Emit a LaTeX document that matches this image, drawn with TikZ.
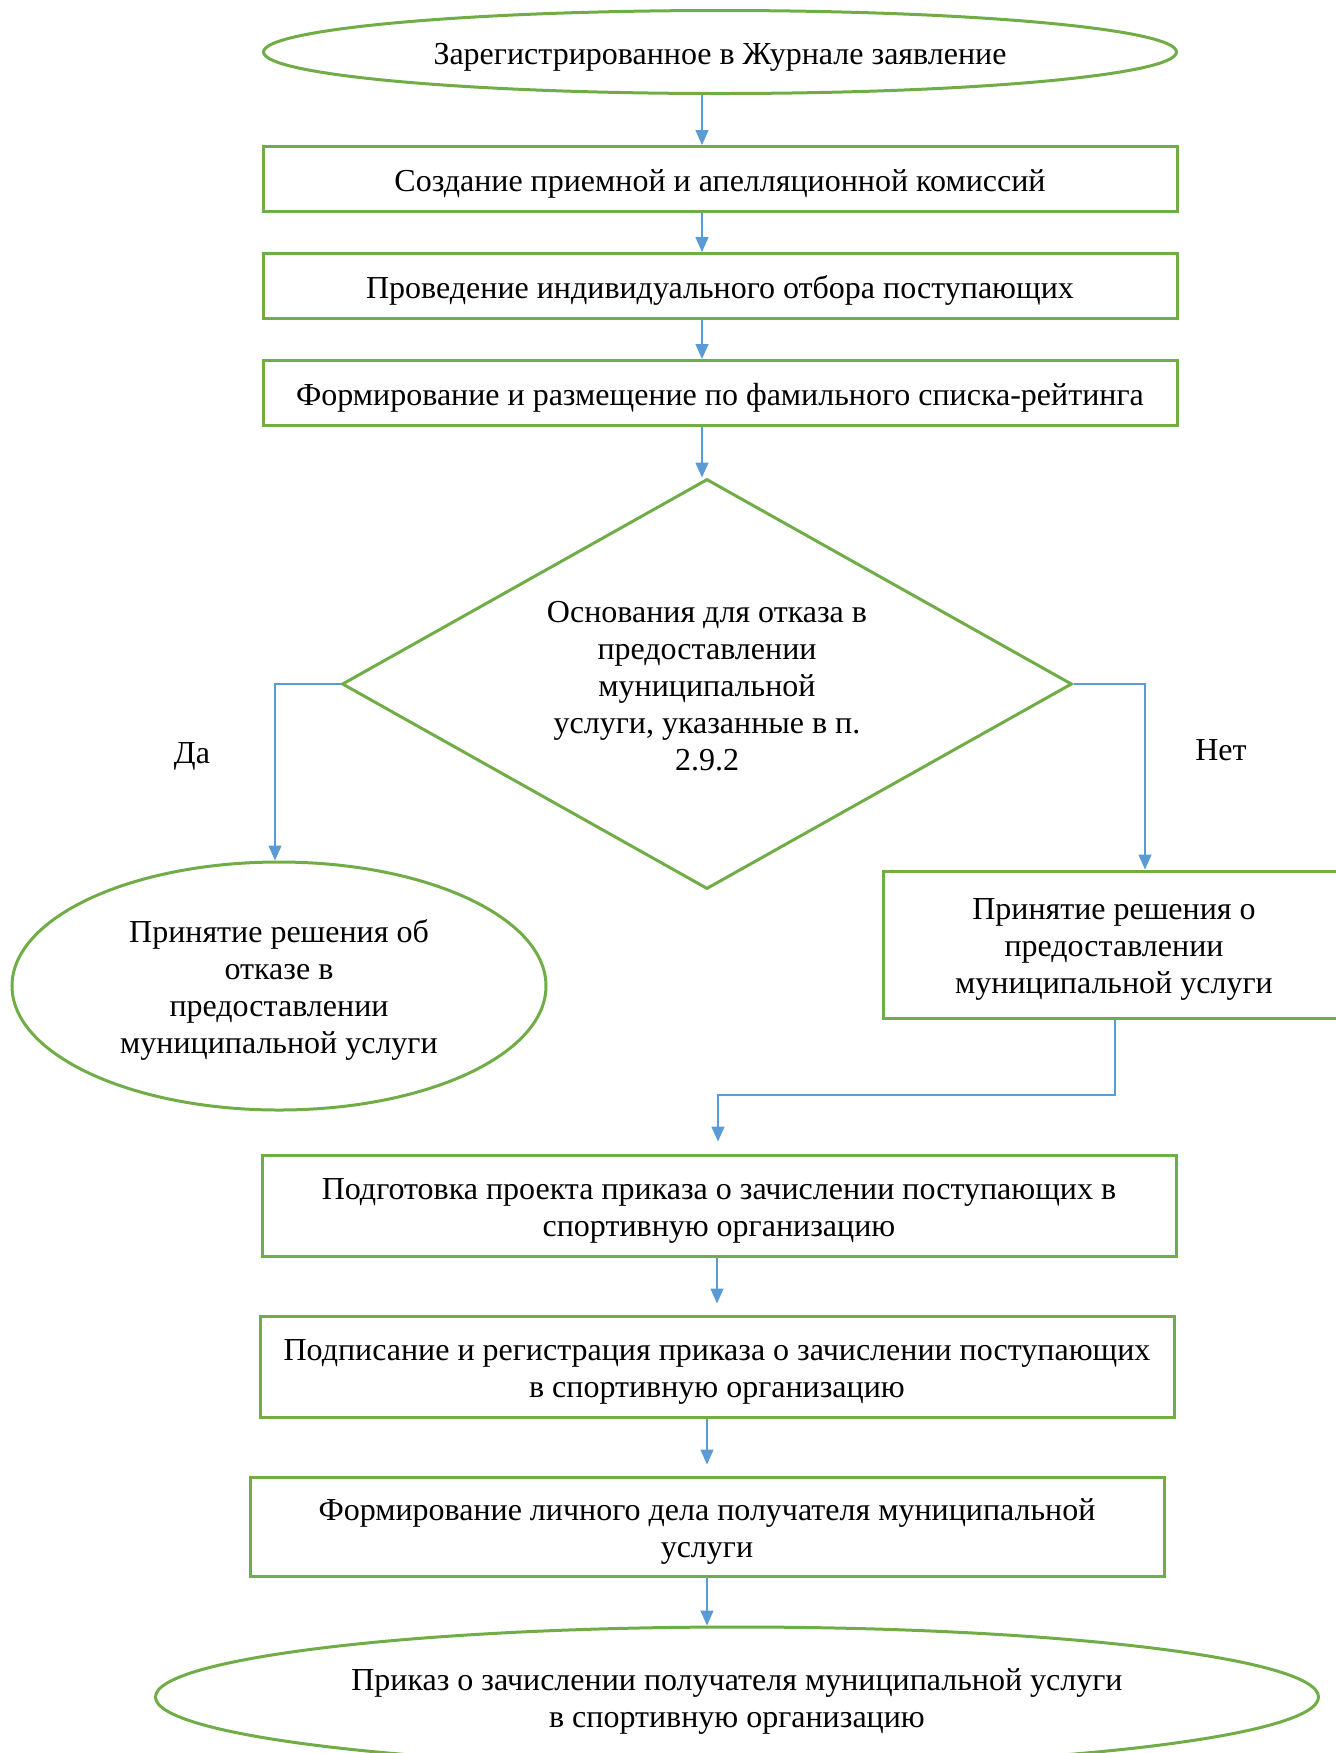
\documentclass[tikz,border=0pt]{standalone}
\usepackage{fontspec}
\setmainfont{Liberation Serif}
\usetikzlibrary{shapes.geometric,arrows.meta}
\definecolor{gr}{RGB}{112,173,71}
\definecolor{bl}{RGB}{91,155,213}
\newcommand{\tx}[1]{\raisebox{-2.3pt}[\height][\depth]{\begin{tabular}{@{}c@{}}#1\end{tabular}}}
\begin{document}
\begin{tikzpicture}[x=0.5pt,y=-0.5pt,
  every node/.style={font=\fontsize{16}{18.5}\selectfont, inner sep=0pt},
  gbox/.style={draw=gr, line width=1.5pt, rectangle, minimum width=457pt},
  gell/.style={draw=gr, line width=1.5pt, ellipse},
  gdia/.style={draw=gr, line width=1.5pt, diamond, aspect=1.78, minimum width=365pt, minimum height=205pt},
  arr/.style={draw=bl, line width=0.75pt, -{Triangle[width=6.5pt,length=7.5pt]}},
  conn/.style={draw=bl, line width=0.75pt}]
\useasboundingbox (0,0) rectangle (1336,1753);
\node[gell, minimum width=456.5pt, minimum height=41.5pt] (e1) at (720,52) {\tx{Зарегистрированное в Журнале заявление}};
\node[gbox, minimum height=32.5pt] (b1) at (720,179) {\tx{Создание приемной и апелляционной комиссий}};
\node[gbox, minimum height=32.5pt] (b2) at (720,286) {\tx{Проведение индивидуального отбора поступающих}};
\node[gbox, minimum height=32.5pt] (b3) at (720,393) {\tx{Формирование и размещение по фамильного списка-рейтинга}};
\node[gdia] (d) at (707,684) {\tx{Основания для отказа в\\предоставлении\\муниципальной\\услуги, указанные в п.\\2.9.2}};
\node[gell, minimum width=267pt, minimum height=124pt] (le) at (279,986) {\tx{Принятие решения об\\отказе в\\предоставлении\\муниципальной услуги}};
\node[gbox, minimum width=231pt, minimum height=73.5pt] (rb) at (1114,944.5) {\tx{Принятие решения о\\предоставлении\\муниципальной услуги}};
\node[gbox, minimum height=50.5pt] (b4) at (719,1205.5) {\tx{Подготовка проекта приказа о зачислении поступающих в\\спортивную организацию}};
\node[gbox, minimum height=50.5pt] (b5) at (717,1366.5) {\tx{Подписание и регистрация приказа о зачислении поступающих\\в спортивную организацию}};
\node[gbox, minimum height=49.5pt] (b6) at (707,1526.5) {\tx{Формирование личного дела получателя муниципальной\\услуги}};
\node[gell, minimum width=581.5pt, minimum height=70pt] (e2) at (737,1697) {\tx{Приказ о зачислении получателя муниципальной услуги\\в спортивную организацию}};
\node (da) at (192,751) {\tx{Да}};
\node (net) at (1221,748) {\tx{Нет}};
\coordinate (ax) at (702,0);
\coordinate (lx) at (275,0);
\coordinate (rx) at (1145,0);
\coordinate (mx) at (1115,1095);
\coordinate (b4x) at (718,0);
\coordinate (b5x) at (717,0);
\coordinate (b6x) at (707,0);
\draw[arr] (e1.south -| ax) -- (b1.north -| ax);
\draw[arr] (b1.south -| ax) -- (b2.north -| ax);
\draw[arr] (b2.south -| ax) -- (b3.north -| ax);
\draw[arr] (b3.south -| ax) -- (d.north -| ax);
\draw[arr] (d.west) -- (d.west -| lx) -- (le.north -| lx);
\draw[arr] (d.east) -- (d.east -| rx) -- (rb.north -| rx);
\draw[arr, shorten >=6pt] (rb.south -| mx) -- (mx) -- (mx -| b4x) -- (b4.north -| b4x);
\draw[arr, shorten >=5.5pt] (b4.south -| b5x) -- (b5.north -| b5x);
\draw[arr, shorten >=5.5pt] (b5.south -| b6x) -- (b6.north -| b6x);
\draw[arr] (b6.south -| b6x) -- (e2.north -| b6x);
\end{tikzpicture}
\end{document}
